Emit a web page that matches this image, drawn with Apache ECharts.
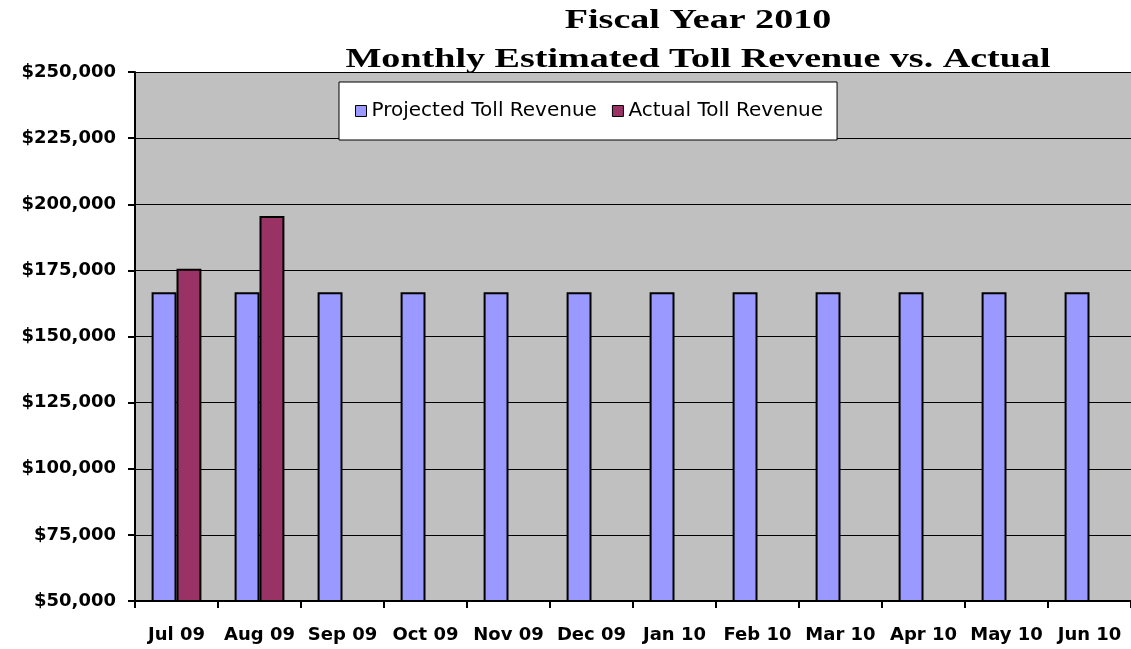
<!DOCTYPE html>
<html>
<head>
<meta charset="utf-8">
<script src="https://cdn.jsdelivr.net/npm/echarts@6/dist/echarts.min.js"></script>
<style>
  html, body { margin: 0; padding: 0; background: #fff; }
  #chart { width: 1131px; height: 649px; }
</style>
</head>
<body>
<div id="chart"></div>
<script>
  // fiscal year months
  var months = ['Jul 09', 'Aug 09', 'Sep 09', 'Oct 09', 'Nov 09', 'Dec 09',
    'Jan 10', 'Feb 10', 'Mar 10', 'Apr 10', 'May 10', 'Jun 10'];
  var projected = [166700, 166700, 166700, 166700, 166700, 166700,
    166700, 166700, 166700, 166700, 166700, 166700];
  var actual = [175600, 195600, null, null, null, null,
    null, null, null, null, null, null];
  var yTicks = [50000, 75000, 100000, 125000, 150000, 175000, 200000, 225000, 250000];

  var chart = echarts.init(document.getElementById('chart'));

  function money(v) {
    return '$' + String(v).replace(/\B(?=(\d{3})+(?!\d))/g, ',');
  }

  var labelFont = {
    fontFamily: 'DejaVu Sans',
    fontWeight: 'bold',
    fontSize: 18,
    color: '#000'
  };

  // title is stretched sideways like the original picture
  function titleLine(txt, y) {
    return {
      type: 'text', x: 698, y: y, scaleX: 1.36,
      style: {
        text: txt,
        font: 'bold 28px "Liberation Serif"',
        fill: '#000',
        align: 'center',
        verticalAlign: 'middle'
      }
    };
  }

  chart.setOption({
    animation: false,
    backgroundColor: '#fff',
    graphic: [
      titleLine('Fiscal Year 2010', 21),
      titleLine('Monthly Estimated Toll Revenue vs. Actual', 60)
    ],
    legend: {
      left: 339,
      top: 82,
      padding: [19, 14, 19, 16],
      itemGap: 15,
      itemWidth: 11,
      itemHeight: 11,
      icon: 'rect',
      backgroundColor: '#fff',
      borderColor: '#000',
      borderWidth: 1,
      itemStyle: { borderColor: '#000', borderWidth: 1 },
      textStyle: {
        fontFamily: 'DejaVu Sans',
        fontSize: 20,
        color: '#000'
      },
      data: ['Projected Toll Revenue', 'Actual Toll Revenue']
    },
    grid: {
      left: 135,
      right: -2,
      top: 72,
      bottom: 48,
      show: true,
      backgroundColor: '#c0c0c0',
      borderWidth: 0
    },
    xAxis: {
      type: 'category',
      data: months,
      boundaryGap: true,
      axisLine: { lineStyle: { color: '#000', width: 2 } },
      axisTick: { show: true, length: 7, alignWithLabel: false, lineStyle: { color: '#000', width: 2 } },
      axisLabel: Object.assign({ interval: 0, margin: 25 }, labelFont),
      splitLine: { show: false }
    },
    yAxis: {
      type: 'value',
      min: yTicks[0],
      max: yTicks[yTicks.length - 1],
      interval: yTicks[1] - yTicks[0],
      axisLine: { show: true, lineStyle: { color: '#000', width: 2 } },
      axisTick: { show: true, length: 7, lineStyle: { color: '#000', width: 2 } },
      axisLabel: Object.assign({ margin: 19, formatter: money }, labelFont),
      splitLine: { show: true, lineStyle: { color: '#000', width: 1 } }
    },
    series: [
      {
        name: 'Projected Toll Revenue',
        type: 'bar',
        data: projected,
        barGap: '0%',
        barCategoryGap: '40%',
        itemStyle: { color: '#9999ff', borderColor: '#000', borderWidth: 2 }
      },
      {
        name: 'Actual Toll Revenue',
        type: 'bar',
        data: actual,
        itemStyle: { color: '#993366', borderColor: '#000', borderWidth: 2 }
      }
    ]
  });
</script>
</body>
</html>
